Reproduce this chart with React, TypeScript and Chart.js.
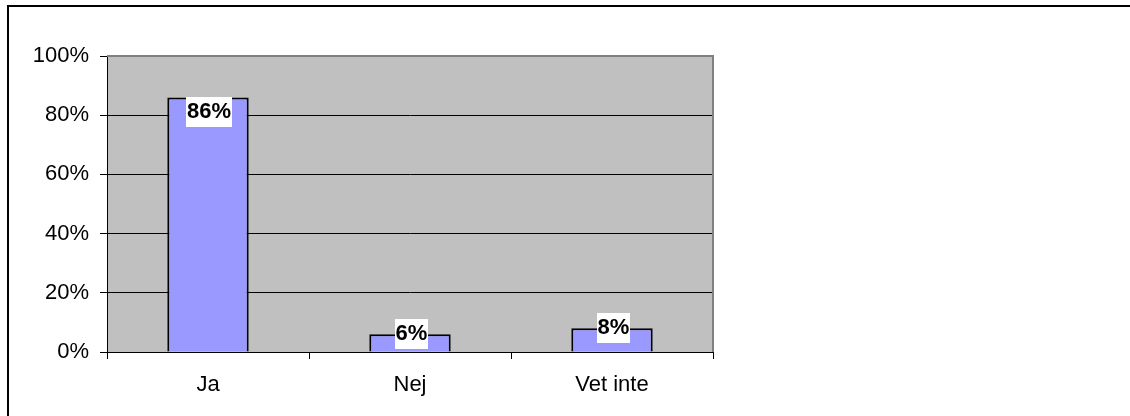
import React, { useEffect, useRef } from "react";
import { Chart, registerables } from "chart.js";

Chart.register(...registerables);

// Survey answers and their shares in percent
const categories: string[] = ["Ja", "Nej", "Vet inte"];
const shares: number[] = [86, 6, 8];
const yTicks: number[] = [0, 20, 40, 60, 80, 100];

const FONT = "'Liberation Sans', Arial, sans-serif";

// Grey plot background behind the grid
const plotBackground = {
  id: "plotBackground",
  beforeDraw(chart: any) {
    const { ctx, chartArea } = chart;
    ctx.save();
    ctx.fillStyle = "#C0C0C0";
    ctx.fillRect(chartArea.left, chartArea.top, chartArea.right - chartArea.left, chartArea.bottom - chartArea.top);
    ctx.restore();
  },
};

// Darker grey edge along the top and right of the plot area
const plotEdge = {
  id: "plotEdge",
  afterDatasetsDraw(chart: any) {
    const { ctx, chartArea } = chart;
    ctx.save();
    ctx.strokeStyle = "#808080";
    ctx.lineWidth = 2;
    ctx.beginPath();
    ctx.moveTo(chartArea.left, chartArea.top);
    ctx.lineTo(chartArea.right, chartArea.top);
    ctx.lineTo(chartArea.right, chartArea.bottom);
    ctx.stroke();
    ctx.restore();
  },
};

// Value labels on white boxes at the end of each bar
const valueLabels = {
  id: "valueLabels",
  afterDatasetsDraw(chart: any) {
    const { ctx } = chart;
    const meta = chart.getDatasetMeta(0);
    const data = chart.data.datasets[0].data as number[];
    ctx.save();
    ctx.font = `bold 22px ${FONT}`;
    const boxH = 30;
    meta.data.forEach((bar: any, i: number) => {
      const text = `${data[i]}%`;
      const w = Math.ceil(ctx.measureText(text).width) + 1;
      const barH = bar.base - bar.y;
      const top = barH >= boxH ? bar.y : bar.y - boxH / 2;
      const left = Math.round(bar.x - w / 2 + 1);
      ctx.fillStyle = "#FFFFFF";
      ctx.fillRect(left, Math.round(top), w, boxH);
      ctx.fillStyle = "#000000";
      ctx.textAlign = "center";
      ctx.textBaseline = "alphabetic";
      ctx.fillText(text, left + w / 2, Math.round(top) + 21);
    });
    ctx.restore();
  },
};

export default function App() {
  const canvasRef = useRef<HTMLCanvasElement | null>(null);

  useEffect(() => {
    document.body.style.overflow = "hidden";
    const canvas = canvasRef.current;
    if (!canvas) return;
    const chart = new Chart(canvas, {
      type: "bar",
      data: {
        labels: categories,
        datasets: [
          {
            data: shares,
            backgroundColor: "#9999FF",
            borderColor: "#000000",
            borderWidth: 2,
            categoryPercentage: 1,
            barPercentage: 0.403,
          },
        ],
      },
      options: {
        responsive: false,
        animation: false,
        devicePixelRatio: 1,
        layout: { padding: { left: 0, right: 417, top: 56, bottom: 0 } },
        plugins: {
          legend: { display: false },
          tooltip: { enabled: false },
          title: { display: false },
        },
        scales: {
          x: {
            afterFit(scale: any) {
              scale.height = 64;
            },
            grid: {
              display: true,
              offset: true,
              drawOnChartArea: false,
              drawTicks: true,
              tickLength: 7,
              tickColor: "#000000",
              tickWidth: 1,
            },
            border: { display: true, color: "#000000", width: 1 },
            ticks: {
              color: "#000000",
              font: { family: FONT, size: 22 },
              padding: 13,
              maxRotation: 0,
            },
          },
          y: {
            min: 0,
            max: 100,
            afterFit(scale: any) {
              scale.width = 107;
            },
            afterBuildTicks(scale: any) {
              scale.ticks = yTicks.map((v) => ({ value: v }));
            },
            grid: {
              color: "#000000",
              lineWidth: 1,
              drawTicks: true,
              tickLength: 7,
              tickColor: "#000000",
              tickWidth: 1,
            },
            border: { display: true, color: "#000000", width: 1 },
            ticks: {
              color: "#000000",
              font: { family: FONT, size: 22 },
              padding: 11,
              callback: (v: any) => `${v}%`,
            },
          },
        },
      },
      plugins: [plotBackground, plotEdge, valueLabels],
    });
    return () => chart.destroy();
  }, []);

  return (
    <div
      style={{
        position: "fixed",
        left: 0,
        top: 0,
        width: 1130,
        height: 416,
        overflow: "hidden",
        background: "#FFFFFF",
      }}
    >
      <div
        style={{
          position: "absolute",
          left: 7,
          top: 5,
          width: 1200,
          height: 500,
          border: "2px solid #000000",
        }}
      />
      <canvas
        ref={canvasRef}
        width={1130}
        height={416}
        style={{ position: "absolute", left: 0, top: 0, width: 1130, height: 416 }}
      />
    </div>
  );
}
